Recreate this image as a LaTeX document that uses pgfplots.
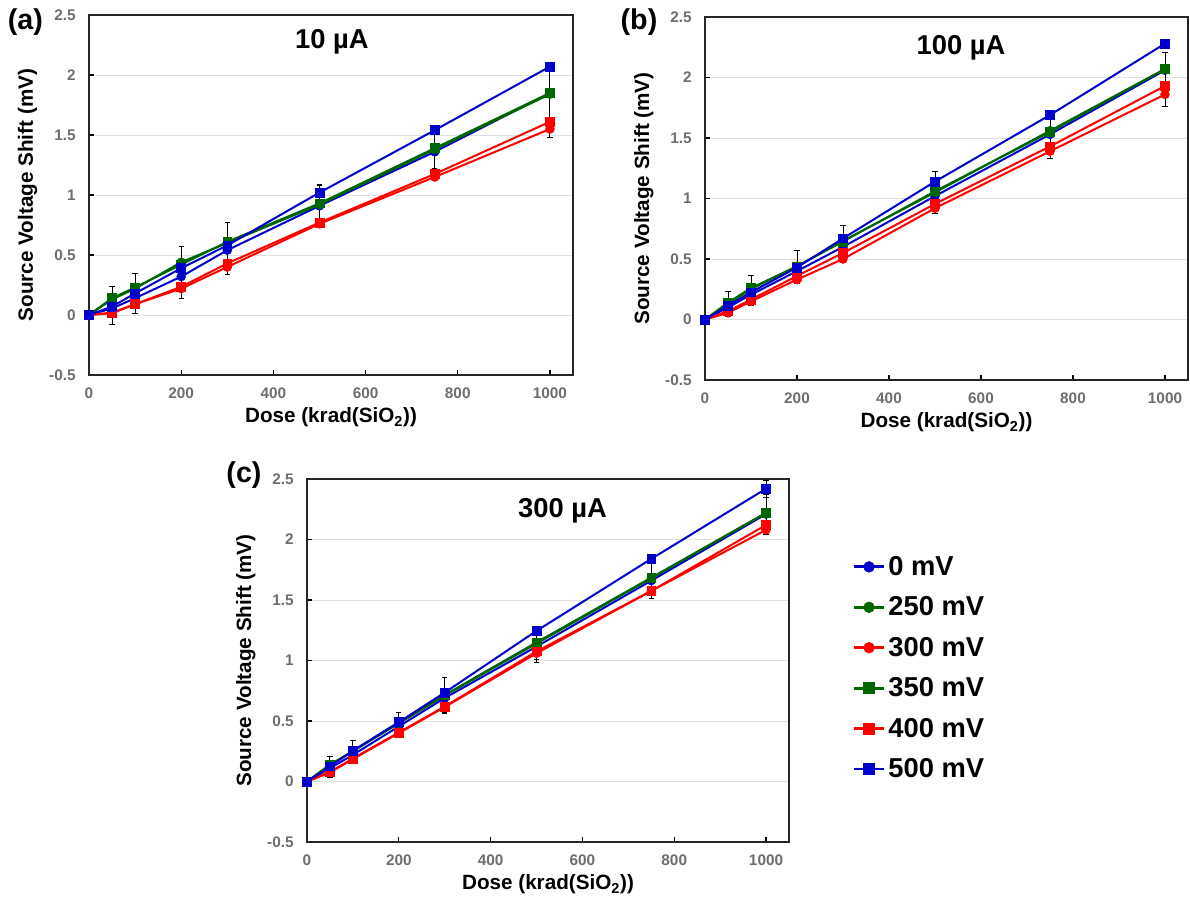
\documentclass[border=0pt]{standalone}
\usepackage{fontspec}
\setmainfont{Liberation Sans}
\usepackage{pgfplots}
\pgfplotsset{compat=1.18}
\usepackage{pgfplotstable}
\definecolor{sblue}{RGB}{0,0,204}
\definecolor{sgreen}{RGB}{0,102,0}
\definecolor{sred}{RGB}{255,0,0}
\definecolor{tickgray}{RGB}{110,110,110}

% panel (a): 10 uA
\pgfplotstableread{
x    v0    v250  v300  v350  v400  v500  e250  e300  e500
0    0     0     0     0     0     0     0     0     0
50   0.055 0.13  0.02  0.14  0.015 0.07  0.11  0.10  0.02
100  0.14  0.22  0.09  0.23  0.09  0.18  0.13  0.08  0.02
200  0.32  0.44  0.22  0.42  0.235 0.39  0.13  0.08  0.02
300  0.54  0.60  0.40  0.61  0.43  0.58  0.17  0.06  0.02
500  0.91  0.92  0.76  0.93  0.77  1.02  0.16  0.03  0.07
750  1.36  1.38  1.15  1.39  1.175 1.54  0.16  0.03  0.02
1000 1.85  1.84  1.55  1.85  1.61  2.07  0.19  0.07  0.02
}\tA
% panel (b): 100 uA
\pgfplotstableread{
x    v0    v250  v300  v350  v400  v500  e250  e300  e500
0    0     0     0     0     0     0     0     0     0
50   0.10  0.13  0.055 0.14  0.07  0.115 0.10  0.03  0.02
100  0.205 0.25  0.15  0.26  0.165 0.225 0.11  0.03  0.02
200  0.40  0.44  0.33  0.44  0.36  0.43  0.13  0.03  0.02
300  0.60  0.65  0.50  0.645 0.55  0.67  0.13  0.03  0.02
500  1.02  1.05  0.92  1.06  0.955 1.14  0.17  0.04  0.08
750  1.53  1.56  1.39  1.55  1.43  1.69  0.10  0.06  0.02
1000 2.06  2.07  1.86  2.07  1.93  2.28  0.14  0.10  0.02
}\tB
% panel (c): 300 uA
\pgfplotstableread{
x    v0    v250  v300  v350  v400  v500  e250  e300  e500
0    0     0     0     0     0     0     0     0     0
50   0.11  0.135 0.075 0.14  0.08  0.125 0.07  0.04  0.02
100  0.22  0.25  0.185 0.25  0.19  0.255 0.09  0.04  0.02
200  0.455 0.48  0.40  0.49  0.405 0.49  0.09  0.03  0.02
300  0.69  0.71  0.615 0.715 0.62  0.735 0.15  0.045 0.02
500  1.115 1.14  1.06  1.15  1.075 1.245 0.13  0.08  0.03
750  1.66  1.68  1.575 1.685 1.575 1.84  0.17  0.065 0.03
1000 2.21  2.22  2.08  2.22  2.12  2.42  0.15  0.04  0.07
}\tC

\pgfplotsset{
  panel/.style={
    scale only axis, clip=false,
    xmin=0, xmax=1050, ymin=-0.5, ymax=2.5,
    xtick={0,200,...,1000}, ytick={-0.5,0,0.5,1,1.5,2,2.5},
    xtick pos=bottom, ytick pos=left, tick align=inside,
    major tick length=3.5pt, tick style={black, line width=1pt},
    axis line style={black!85, line width=1.3pt},
    ymajorgrids, grid style={black!12, line width=0.6pt},
    ticklabel style={font=\fontsize{11.5}{13}\selectfont\bfseries, text=tickgray},
    xticklabel style={yshift=-6pt},
    yticklabel style={xshift=-6.5pt},
    /pgf/number format/assume math mode=true,
    /pgf/number format/1000 sep={}, scaled ticks=false,
    label style={font=\fontsize{15.5}{17}\selectfont\bfseries},
    xlabel={Dose (krad(SiO\textsubscript{2}))},
    ylabel={Source Voltage Shift (mV)},
    ylabel style={yshift=2pt},
    legend image code/.code={\draw[mark repeat=2, mark phase=2, line width=2.2pt,
      mark size=4pt]
      plot coordinates {(0cm,0cm) (0.4cm,0cm) (0.8cm,0cm)};},
  },
  ser/.style={color=#1, line width=1.5pt, mark size=3.3pt,
    mark options={solid, fill=#1, draw=#1, line width=0.5pt}},
  eb/.style={error bars/y dir=both, error bars/y explicit,
    error bars/error bar style={black, line width=0.7pt},
    error bars/error mark options={rotate=90, black, mark size=2pt, line width=0.7pt}},
}
\tikzset{ttl/.style={font=\fontsize{20.5}{23}\selectfont\bfseries},
         plbl/.style={font=\fontsize{21.5}{24}\selectfont\bfseries}}

\newcommand{\sixseries}[1]{%
  \addplot[ser=sblue, mark=*] table[x=x, y=v0] {#1};
  \addplot[ser=sgreen, mark=*, eb] table[x=x, y=v250, y error=e250] {#1};
  \addplot[ser=sred, mark=*, eb] table[x=x, y=v300, y error=e300] {#1};
  \addplot[ser=sgreen, mark=square*] table[x=x, y=v350] {#1};
  \addplot[ser=sred, mark=square*] table[x=x, y=v400] {#1};
  \addplot[ser=sblue, mark=square*, eb] table[x=x, y=v500, y error=e500] {#1};
}

\begin{document}
\begin{tikzpicture}
\useasboundingbox (0,0) rectangle (892.5pt,678pt);

\begin{axis}[panel, at={(66.75pt,396.75pt)}, anchor=south west,
  width=363pt, height=270pt]
  \sixseries{\tA}
  \node[ttl] at (rel axis cs:0.502,0.925) {10 µA};
\end{axis}

\begin{axis}[panel, at={(528.75pt,393pt)}, anchor=south west,
  width=362.25pt, height=272.25pt]
  \sixseries{\tB}
  \node[ttl] at (rel axis cs:0.53,0.914) {100 µA};
\end{axis}

\begin{axis}[panel, at={(230.25pt,46.5pt)}, anchor=south west,
  width=361.5pt, height=272.25pt,
  legend cell align=left,
  legend style={at={(1.131,0.795)}, anchor=north west, draw=none, fill=none,
    font=\fontsize{20.5}{25}\selectfont\bfseries, row sep=10.5pt, inner sep=0pt}]
  \sixseries{\tC}
  \node[ttl] at (rel axis cs:0.53,0.912) {300 µA};
  \legend{0 mV, 250 mV, 300 mV, 350 mV, 400 mV, 500 mV}
\end{axis}

\node[plbl] at (19.1pt,661.5pt) {(a)};
\node[plbl] at (479.25pt,661.5pt) {(b)};
\node[plbl] at (183pt,321.75pt) {(c)};
\end{tikzpicture}
\end{document}
